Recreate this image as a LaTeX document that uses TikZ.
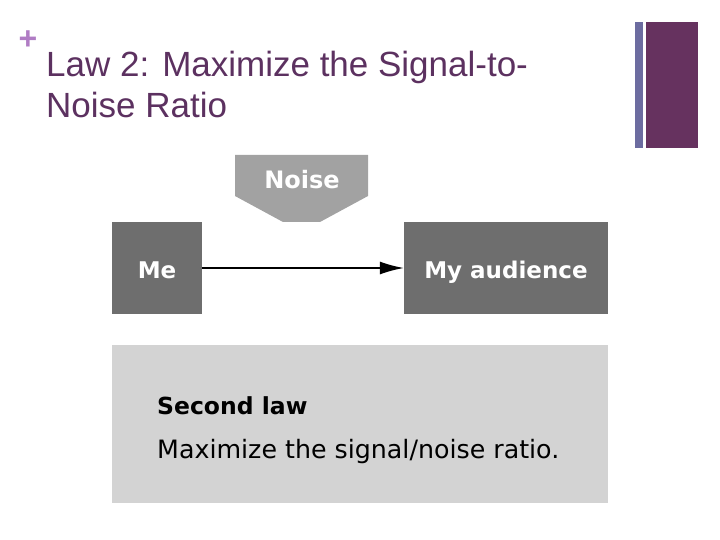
\documentclass[tikz,border=0pt]{standalone}
\usepackage{fontspec}
\setmainfont{Liberation Sans}
\newfontfamily\djv{DejaVu Sans}
\usetikzlibrary{arrows.meta}
\definecolor{titlepurple}{HTML}{5C3160}
\definecolor{pluspurple}{HTML}{B07CC4}
\definecolor{barblue}{HTML}{6C6CA0}
\definecolor{barpurple}{HTML}{66325F}
\definecolor{darkbox}{HTML}{6E6E6E}
\definecolor{midbox}{HTML}{A2A2A2}
\definecolor{lightbox}{HTML}{D3D3D3}
\tikzset{
  darkrect/.style={rectangle, fill=darkbox, draw=none, inner sep=0pt,
    minimum height=92pt, text=white, font=\djv\bfseries\fontsize{23}{26}\selectfont,
    text height=24pt, text depth=4pt},
  flow/.style={draw=black, line width=1.5pt, -{Latex[length=24pt,width=13pt]}},
  lawtext/.style={anchor=base west, inner sep=0pt, text=black},
}
\begin{document}
\begin{tikzpicture}[x=1pt,y=-1pt]
\useasboundingbox (0,0) rectangle (720,540);
% title area
\node[text=pluspurple, font=\bfseries\fontsize{32}{32}\selectfont, inner sep=0pt] (plus) at (28,40) {+};
\node[anchor=north west, inner sep=0pt, align=left, text=titlepurple,
      font=\fontsize{35}{41}\selectfont] (title) at (46,51)
  {Law 2: Maximize the Signal-to-\\Noise Ratio};
\fill[barblue] (635,22) rectangle (643,148);
\fill[barpurple] (646,22) rectangle (698,148);
% noise
\fill[midbox] (235,155) -- (368,155) -- (368,196) -- (320,222) -- (283,222) -- (235,196) -- cycle;
\node[anchor=base, inner sep=0pt, text=white, font=\djv\bfseries\fontsize{24}{26}\selectfont] (noise) at (302,189) {Noise};
% boxes
\node[darkrect, minimum width=90pt] (me) at (157,268) {Me};
\node[darkrect, minimum width=204pt] (aud) at (506,268) {My audience};
\draw[flow] (me) -- (aud);
% law box
\node[rectangle, fill=lightbox, inner sep=0pt, minimum width=496pt, minimum height=158pt] (law) at (360,424) {};
\node[lawtext, font=\djv\bfseries\fontsize{23.5}{26}\selectfont] (lawhead) at (157,414) {Second law};
\node[lawtext, font=\djv\fontsize{25.3}{28}\selectfont] (lawbody) at (157,458) {Maximize the signal/noise ratio.};
\end{tikzpicture}
\end{document}
